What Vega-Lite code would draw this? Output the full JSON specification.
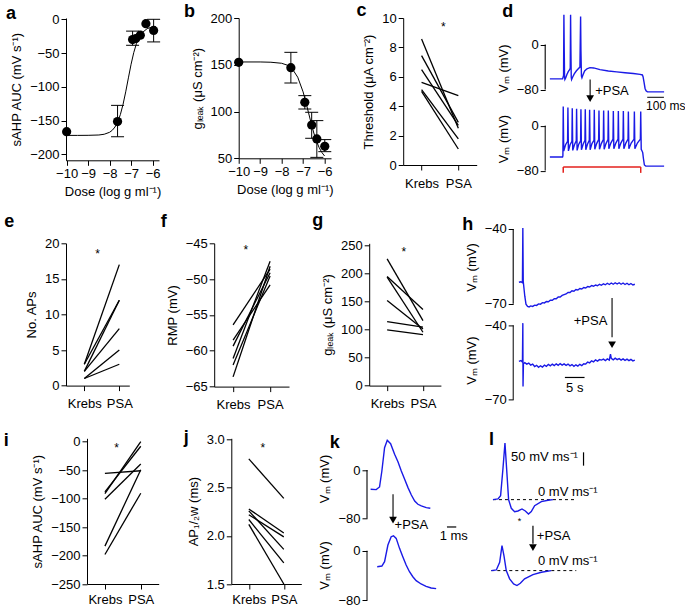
{
"$schema": "https://vega.github.io/schema/vega-lite/v6.json",
"padding": {"left": 3, "top": 2, "right": 0, "bottom": 0},
"background": "white",
"config": {
  "font": "Liberation Sans",
  "view": {"stroke": null},
  "axis": {"grid": false, "labelFontSize": 13, "titleFontSize": 13, "titleFontWeight": "normal", "labelColor": "black", "titleColor": "black", "domainColor": "black", "tickColor": "black", "tickSize": 5, "labelPadding": 2, "labelFlush": false, "labelOverlap": false},
  "axisY": {"titlePadding": 6},
  "axisX": {"titlePadding": 5}
},
"datasets": {
  "a_fit": [{"dose":-10,"auc":-172},{"dose":-9.5,"auc":-172},{"dose":-9,"auc":-171.9},{"dose":-8.5,"auc":-171.4},{"dose":-8.25,"auc":-170.3},{"dose":-8,"auc":-167.4},{"dose":-7.875,"auc":-164.4},{"dose":-7.75,"auc":-159.6},{"dose":-7.625,"auc":-152.1},{"dose":-7.5,"auc":-141.3},{"dose":-7.375,"auc":-126.2},{"dose":-7.25,"auc":-107.5},{"dose":-7.125,"auc":-86.8},{"dose":-7,"auc":-66.6},{"dose":-6.875,"auc":-49.3},{"dose":-6.75,"auc":-36},{"dose":-6.625,"auc":-26.5},{"dose":-6.5,"auc":-20.3},{"dose":-6.25,"auc":-13.8},{"dose":-6,"auc":-11.4},{"dose":-5.85,"auc":-11}],
  "a_pts": [{"dose":-10,"auc":-166.5},{"dose":-7.63,"auc":-151.5,"lo":-174,"hi":-127.5},{"dose":-6.93,"auc":-30,"lo":-38.5,"hi":-17.5},{"dose":-6.78,"auc":-28.5},{"dose":-6.57,"auc":-23.5},{"dose":-6.31,"auc":-6.5},{"dose":-5.95,"auc":-16.5,"lo":-33.5,"hi":0}],
  "b_fit": [{"dose":-10,"g":153},{"dose":-9,"g":153},{"dose":-8.5,"g":152.7},{"dose":-8,"g":151.6},{"dose":-7.75,"g":149.7},{"dose":-7.5,"g":145.5},{"dose":-7.25,"g":136.7},{"dose":-7,"g":121},{"dose":-6.875,"g":110.5},{"dose":-6.75,"g":99},{"dose":-6.625,"g":87.5},{"dose":-6.5,"g":77},{"dose":-6.375,"g":68.2},{"dose":-6.25,"g":61.3},{"dose":-6.125,"g":56.2},{"dose":-6,"g":52.5}],
  "b_pts": [{"dose":-10,"g":152.6},{"dose":-7.57,"g":146.9,"lo":130.5,"hi":163.3},{"dose":-6.92,"g":109.9,"lo":102.7,"hi":117},{"dose":-6.6,"g":85.6,"lo":71.4,"hi":99.2},{"dose":-6.36,"g":70.7,"lo":51,"hi":90.3},{"dose":-5.99,"g":62.8,"lo":57.1,"hi":70}],
  "c_lines": [{"id":1,"cond":"Krebs","v":8.57},{"id":1,"cond":"PSA","v":2.5},{"id":2,"cond":"Krebs","v":7.44},{"id":2,"cond":"PSA","v":2.9},{"id":3,"cond":"Krebs","v":6.49},{"id":3,"cond":"PSA","v":2.7},{"id":4,"cond":"Krebs","v":5.62},{"id":4,"cond":"PSA","v":4.72},{"id":5,"cond":"Krebs","v":5.12},{"id":5,"cond":"PSA","v":1.77},{"id":6,"cond":"Krebs","v":5.01},{"id":6,"cond":"PSA","v":1.09}],
  "e_lines": [{"id":1,"cond":"Krebs","v":3},{"id":1,"cond":"PSA","v":17},{"id":2,"cond":"Krebs","v":3},{"id":2,"cond":"PSA","v":12},{"id":3,"cond":"Krebs","v":2},{"id":3,"cond":"PSA","v":12},{"id":4,"cond":"Krebs","v":2},{"id":4,"cond":"PSA","v":8},{"id":5,"cond":"Krebs","v":1},{"id":5,"cond":"PSA","v":5},{"id":6,"cond":"Krebs","v":1},{"id":6,"cond":"PSA","v":3}],
  "f_lines": [{"id":1,"cond":"Krebs","v":-56.4},{"id":1,"cond":"PSA","v":-48.6},{"id":2,"cond":"Krebs","v":-58.5},{"id":2,"cond":"PSA","v":-50.8},{"id":3,"cond":"Krebs","v":-59.35},{"id":3,"cond":"PSA","v":-49.1},{"id":4,"cond":"Krebs","v":-61.07},{"id":4,"cond":"PSA","v":-47.5},{"id":5,"cond":"Krebs","v":-61.97},{"id":5,"cond":"PSA","v":-49.55},{"id":6,"cond":"Krebs","v":-63.64},{"id":6,"cond":"PSA","v":-48.2}],
  "g_lines": [{"id":1,"cond":"Krebs","v":226.2},{"id":1,"cond":"PSA","v":116},{"id":2,"cond":"Krebs","v":194.6},{"id":2,"cond":"PSA","v":135.7},{"id":3,"cond":"Krebs","v":193.5},{"id":3,"cond":"PSA","v":95.2},{"id":4,"cond":"Krebs","v":151.8},{"id":4,"cond":"PSA","v":101.2},{"id":5,"cond":"Krebs","v":114.3},{"id":5,"cond":"PSA","v":104.2},{"id":6,"cond":"Krebs","v":99.4},{"id":6,"cond":"PSA","v":91}],
  "i_lines": [{"id":1,"cond":"Krebs","v":-55.9},{"id":1,"cond":"PSA","v":-51.2},{"id":2,"cond":"Krebs","v":-88.2},{"id":2,"cond":"PSA","v":-8.2},{"id":3,"cond":"Krebs","v":-91.2},{"id":3,"cond":"PSA","v":0},{"id":4,"cond":"Krebs","v":-101.2},{"id":4,"cond":"PSA","v":-39.4},{"id":5,"cond":"Krebs","v":-183.5},{"id":5,"cond":"PSA","v":-49.4},{"id":6,"cond":"Krebs","v":-198.2},{"id":6,"cond":"PSA","v":-90.6}],
  "j_lines": [{"id":1,"cond":"Krebs","v":2.8},{"id":1,"cond":"PSA","v":2.39},{"id":2,"cond":"Krebs","v":2.28},{"id":2,"cond":"PSA","v":2.03},{"id":3,"cond":"Krebs","v":2.26},{"id":3,"cond":"PSA","v":1.86},{"id":4,"cond":"Krebs","v":2.22},{"id":4,"cond":"PSA","v":1.99},{"id":5,"cond":"Krebs","v":2.17},{"id":5,"cond":"PSA","v":1.72},{"id":6,"cond":"Krebs","v":2.12},{"id":6,"cond":"PSA","v":1.5}],
  "d1": [{"t":0,"v":-61},{"t":76,"v":-61},{"t":79,"v":-58},{"t":82,"v":-55},{"t":84,"v":53},{"t":86,"v":-10},{"t":88,"v":-58},{"t":90,"v":-62},{"t":95,"v":-59},{"t":102,"v":-53},{"t":110,"v":-48},{"t":117,"v":-45},{"t":122,"v":-42},{"t":124,"v":53},{"t":126,"v":-10},{"t":128,"v":-58},{"t":130,"v":-62},{"t":136,"v":-58},{"t":146,"v":-52},{"t":158,"v":-47},{"t":170,"v":-43},{"t":180,"v":-40},{"t":184,"v":50},{"t":186,"v":-10},{"t":189,"v":-56},{"t":192,"v":-59},{"t":198,"v":-54},{"t":208,"v":-47},{"t":222,"v":-43},{"t":240,"v":-41},{"t":262,"v":-41.5},{"t":300,"v":-44.5},{"t":350,"v":-47},{"t":400,"v":-48.5},{"t":450,"v":-50},{"t":500,"v":-51.5},{"t":540,"v":-53},{"t":554,"v":-54},{"t":558,"v":-57},{"t":564,"v":-67},{"t":570,"v":-78},{"t":576,"v":-82},{"t":584,"v":-84},{"t":684,"v":-84}],
  "d2": [{"t":0,"v":-55.7},{"t":76,"v":-55.7},{"t":78,"v":-54},{"t":80,"v":34},{"t":83,"v":-45},{"t":94,"v":-34},{"t":106,"v":-28},{"t":108,"v":32},{"t":111,"v":-45},{"t":121,"v":-34},{"t":132,"v":-28},{"t":134,"v":31},{"t":137,"v":-44},{"t":147,"v":-34},{"t":158,"v":-27},{"t":160,"v":30},{"t":163,"v":-44},{"t":173,"v":-33},{"t":184,"v":-27},{"t":186,"v":29},{"t":189,"v":-43},{"t":199,"v":-33},{"t":210,"v":-26},{"t":212,"v":29},{"t":215,"v":-43},{"t":225,"v":-33},{"t":236,"v":-26},{"t":238,"v":28},{"t":241,"v":-43},{"t":252,"v":-32},{"t":264,"v":-26},{"t":266,"v":28},{"t":269,"v":-42},{"t":280,"v":-32},{"t":292,"v":-25},{"t":294,"v":27},{"t":297,"v":-42},{"t":308,"v":-32},{"t":320,"v":-25},{"t":322,"v":27},{"t":325,"v":-42},{"t":336,"v":-32},{"t":348,"v":-25},{"t":350,"v":27},{"t":353,"v":-41},{"t":365,"v":-31},{"t":378,"v":-24},{"t":380,"v":26},{"t":383,"v":-41},{"t":395,"v":-31},{"t":408,"v":-24},{"t":410,"v":26},{"t":413,"v":-41},{"t":425,"v":-31},{"t":438,"v":-24},{"t":440,"v":26},{"t":443,"v":-41},{"t":455,"v":-31},{"t":468,"v":-24},{"t":470,"v":25},{"t":473,"v":-41},{"t":487,"v":-31},{"t":504,"v":-24},{"t":506,"v":25},{"t":509,"v":-41},{"t":524,"v":-31},{"t":542,"v":-24},{"t":544,"v":25},{"t":547,"v":-42},{"t":552,"v":-45},{"t":556,"v":-48},{"t":560,"v":-58},{"t":566,"v":-70},{"t":574,"v":-72},{"t":684,"v":-72}],
  "h1": [{"t":0,"v":-61.4},{"t":0.5,"v":-61.2},{"t":0.9,"v":-61.6},{"t":1.0,"v":-39.6},{"t":1.1,"v":-61},{"t":1.3,"v":-64},{"t":1.5,"v":-67},{"t":1.8,"v":-70.2},{"t":2.2,"v":-71.1},{"t":2.6,"v":-71.3},{"t":3.0,"v":-70.9},{"t":3.5,"v":-71.1},{"t":4.0,"v":-70.6},{"t":4.5,"v":-70.7},{"t":5.0,"v":-70.1},{"t":5.5,"v":-70.2},{"t":6.0,"v":-69.6},{"t":6.5,"v":-69.7},{"t":7.0,"v":-69.1},{"t":7.5,"v":-69.2},{"t":8.0,"v":-68.6},{"t":8.5,"v":-68.6},{"t":9.0,"v":-68.0},{"t":9.5,"v":-68.0},{"t":10.0,"v":-67.3},{"t":10.5,"v":-67.3},{"t":11.0,"v":-66.7},{"t":11.5,"v":-66.4},{"t":12.0,"v":-66.1},{"t":12.5,"v":-65.5},{"t":13.0,"v":-65.5},{"t":13.5,"v":-64.8},{"t":14.0,"v":-65.0},{"t":14.5,"v":-64.3},{"t":15.0,"v":-64.5},{"t":15.5,"v":-63.9},{"t":16.0,"v":-64.1},{"t":16.5,"v":-63.5},{"t":17.0,"v":-63.7},{"t":17.5,"v":-63.1},{"t":18.0,"v":-63.3},{"t":18.5,"v":-62.7},{"t":19.0,"v":-63.0},{"t":19.5,"v":-62.5},{"t":20.0,"v":-62.8},{"t":20.5,"v":-62.2},{"t":21.0,"v":-62.6},{"t":21.5,"v":-62.0},{"t":22.0,"v":-62.4},{"t":22.5,"v":-61.8},{"t":23.0,"v":-62.3},{"t":23.5,"v":-61.7},{"t":24.0,"v":-62.2},{"t":24.5,"v":-61.6},{"t":25.0,"v":-62.1},{"t":25.5,"v":-61.6},{"t":26.0,"v":-62.2},{"t":26.5,"v":-61.7},{"t":27.0,"v":-62.3},{"t":27.5,"v":-61.8},{"t":28.0,"v":-62.4},{"t":28.5,"v":-61.9},{"t":29.0,"v":-62.5},{"t":29.5,"v":-62.2}],
  "h2": [{"t":0,"v":-54.5},{"t":0.5,"v":-54.2},{"t":0.9,"v":-54.8},{"t":1.0,"v":-39.1},{"t":1.05,"v":-64.6},{"t":1.15,"v":-55.5},{"t":1.5,"v":-55.0},{"t":2.0,"v":-55.6},{"t":2.5,"v":-55.2},{"t":3.0,"v":-56.0},{"t":3.5,"v":-55.6},{"t":4.0,"v":-56.6},{"t":4.5,"v":-56.1},{"t":5.0,"v":-56.9},{"t":5.5,"v":-56.3},{"t":6.0,"v":-56.8},{"t":6.5,"v":-56.0},{"t":7.0,"v":-56.5},{"t":7.5,"v":-55.7},{"t":8.0,"v":-56.3},{"t":8.5,"v":-55.6},{"t":9.0,"v":-56.2},{"t":9.5,"v":-55.5},{"t":10.0,"v":-56.1},{"t":10.5,"v":-55.4},{"t":11.0,"v":-56.0},{"t":11.5,"v":-55.5},{"t":12.0,"v":-56.1},{"t":12.5,"v":-55.6},{"t":13.0,"v":-56.3},{"t":13.5,"v":-55.8},{"t":14.0,"v":-56.5},{"t":14.5,"v":-55.9},{"t":15.0,"v":-56.4},{"t":15.5,"v":-55.7},{"t":16.0,"v":-56.2},{"t":16.5,"v":-55.5},{"t":17.0,"v":-55.6},{"t":17.5,"v":-54.8},{"t":18.0,"v":-55.1},{"t":18.5,"v":-54.3},{"t":19.0,"v":-54.7},{"t":19.5,"v":-53.9},{"t":20.0,"v":-54.4},{"t":20.5,"v":-53.8},{"t":21.0,"v":-54.0},{"t":21.5,"v":-53.6},{"t":22.0,"v":-54.2},{"t":22.5,"v":-53.5},{"t":23.0,"v":-54.0},{"t":23.3,"v":-51.6},{"t":23.5,"v":-53.3},{"t":24.0,"v":-53.9},{"t":24.5,"v":-53.2},{"t":25.0,"v":-53.8},{"t":25.5,"v":-53.4},{"t":26.0,"v":-54.0},{"t":26.5,"v":-53.5},{"t":27.0,"v":-54.1},{"t":27.5,"v":-53.6},{"t":28.0,"v":-54.2},{"t":28.5,"v":-53.7},{"t":29.0,"v":-54.3},{"t":29.5,"v":-54.0}],
  "k1": [{"t":0.39,"v":-31.8},{"t":0.99,"v":-32.3},{"t":1.35,"v":-27.9},{"t":1.6,"v":-1.6},{"t":1.89,"v":36.7},{"t":2.18,"v":48.8},{"t":2.54,"v":43.3},{"t":2.97,"v":25.8},{"t":3.33,"v":13.7},{"t":3.69,"v":-1.6},{"t":4.05,"v":-15.3},{"t":4.41,"v":-29},{"t":4.77,"v":-41.1},{"t":5.13,"v":-51},{"t":5.48,"v":-56.4},{"t":5.84,"v":-59.2},{"t":6.38,"v":-61.9},{"t":6.81,"v":-63}],
  "k2": [{"t":1.1,"v":-26},{"t":1.6,"v":-24.9},{"t":1.89,"v":-17.8},{"t":2.25,"v":9.2},{"t":2.6,"v":22.7},{"t":2.85,"v":24.3},{"t":3.14,"v":20},{"t":3.5,"v":3.8},{"t":3.85,"v":-9.7},{"t":4.21,"v":-23.2},{"t":4.57,"v":-34.1},{"t":4.93,"v":-42.2},{"t":5.29,"v":-48.6},{"t":5.82,"v":-54},{"t":6.36,"v":-57.8},{"t":6.9,"v":-60.5},{"t":7.44,"v":-61.6}],
  "l1": [{"t":0.18,"v":0},{"t":0.72,"v":2.5},{"t":1.0,"v":15},{"t":1.25,"v":115},{"t":1.47,"v":212.5},{"t":1.65,"v":115},{"t":1.86,"v":0},{"t":2.15,"v":-32.5},{"t":2.51,"v":-45},{"t":2.87,"v":-42.5},{"t":3.3,"v":-35},{"t":3.66,"v":-42.5},{"t":4.0,"v":-53.7},{"t":4.3,"v":-45},{"t":4.66,"v":-22.5},{"t":5.38,"v":-7.5},{"t":6.1,"v":-2.5},{"t":6.63,"v":0}],
  "l2": [{"t":0,"v":0},{"t":0.54,"v":2.5},{"t":0.9,"v":31},{"t":1.15,"v":93.8},{"t":1.36,"v":56},{"t":1.61,"v":0},{"t":1.97,"v":-31},{"t":2.4,"v":-50},{"t":2.76,"v":-56},{"t":3.12,"v":-47.5},{"t":3.58,"v":-31},{"t":4.48,"v":-15},{"t":5.38,"v":-6.3},{"t":6.45,"v":0}]
},
"bounds": "flush",
"spacing": 225.3,
"vconcat": [
 {"bounds": "flush", "spacing": 79.7, "hconcat": [
  {"width": 93, "height": 142.3,
   "encoding": {"x": {"field": "dose", "type": "quantitative", "scale": {"domain": [-10.03, -5.7], "nice": false, "zero": false}, "axis": {"values": [-10,-9,-8,-7,-6], "title": "Dose (log g ml⁻¹)", "labelExpr": "replace(datum.label, '-', '−')"}},
                "y": {"field": "auc", "type": "quantitative", "scale": {"domain": [-208.9, 1.93], "nice": false, "zero": false}, "axis": {"values": [-200,-150,-100,-50,0], "title": "sAHP AUC (mV s⁻¹)", "labelExpr": "replace(datum.label, '-', '−')"}}},
   "layer": [
    {"data": {"name": "a_fit"}, "mark": {"type": "line", "color": "black", "strokeWidth": 1}},
    {"data": {"name": "a_pts"}, "mark": {"type": "rule", "color": "black", "strokeWidth": 1}, "encoding": {"y": {"field": "lo", "type": "quantitative"}, "y2": {"field": "hi"}}},
    {"data": {"name": "a_pts"}, "mark": {"type": "tick", "orient": "horizontal", "size": 13, "thickness": 1, "color": "black", "opacity": 1}, "encoding": {"y": {"field": "lo", "type": "quantitative"}}},
    {"data": {"name": "a_pts"}, "mark": {"type": "tick", "orient": "horizontal", "size": 13, "thickness": 1, "color": "black", "opacity": 1}, "encoding": {"y": {"field": "hi", "type": "quantitative"}}},
    {"data": {"name": "a_pts"}, "mark": {"type": "circle", "size": 85, "color": "black", "opacity": 1}},
    {"data": {"values": [{"dose": -12.82, "auc": 0.4}]}, "mark": {"type": "text", "text": "a", "fontSize": 18, "fontWeight": "bold", "color": "black", "align": "left", "baseline": "alphabetic"}}
   ]},
  {"bounds": "flush", "spacing": 71.5, "hconcat": [
   {"width": 92.3, "height": 140.3,
    "encoding": {"x": {"field": "dose", "type": "quantitative", "scale": {"domain": [-10, -5.7], "nice": false, "zero": false}, "axis": {"values": [-10,-9,-8,-7,-6], "title": "Dose (log g ml⁻¹)", "labelExpr": "replace(datum.label, '-', '−')"}},
                 "y": {"field": "g", "type": "quantitative", "scale": {"domain": [50, 200], "nice": false, "zero": false}, "axis": {"values": [50,100,150,200], "title": "gₗₑₐₖ (μS cm⁻²)"}}},
    "layer": [
     {"data": {"name": "b_fit"}, "mark": {"type": "line", "color": "black", "strokeWidth": 1}},
     {"data": {"name": "b_pts"}, "mark": {"type": "rule", "color": "black", "strokeWidth": 1}, "encoding": {"y": {"field": "lo", "type": "quantitative"}, "y2": {"field": "hi"}}},
     {"data": {"name": "b_pts"}, "mark": {"type": "tick", "orient": "horizontal", "size": 13, "thickness": 1, "color": "black", "opacity": 1}, "encoding": {"y": {"field": "lo", "type": "quantitative"}}},
     {"data": {"name": "b_pts"}, "mark": {"type": "tick", "orient": "horizontal", "size": 13, "thickness": 1, "color": "black", "opacity": 1}, "encoding": {"y": {"field": "hi", "type": "quantitative"}}},
     {"data": {"name": "b_pts"}, "mark": {"type": "circle", "size": 85, "color": "black", "opacity": 1}},
     {"data": {"values": [{"dose": -12.55, "g": 200.7}]}, "mark": {"type": "text", "text": "b", "fontSize": 18, "fontWeight": "bold", "color": "black", "align": "left", "baseline": "alphabetic"}}
    ]},
   {"bounds": "flush", "spacing": 68, "hconcat": [
    {"width": 73.5, "height": 147,
     "encoding": {"x": {"field": "cond", "type": "nominal", "scale": {"type": "point", "domain": ["Krebs","PSA"], "padding": 0.5}, "axis": {"title": null, "labelAngle": 0, "labelPadding": 7}},
                  "y": {"field": "v", "type": "quantitative", "scale": {"domain": [0, 10], "nice": false, "zero": false}, "axis": {"values": [0,2,4,6,8,10], "title": "Threshold (μA cm⁻²)"}}},
     "layer": [
      {"data": {"name": "c_lines"}, "mark": {"type": "line", "color": "black", "strokeWidth": 1.3}, "encoding": {"detail": {"field": "id", "type": "nominal"}}},
      {"data": {"values": [{"cond": "Krebs", "v": 9.12}]}, "mark": {"type": "text", "text": "*", "fontSize": 12, "color": "black", "align": "center", "baseline": "alphabetic", "dx": 21.7}},
      {"data": {"values": [{"cond": "Krebs", "v": 10.12}]}, "mark": {"type": "text", "text": "c", "fontSize": 18, "fontWeight": "bold", "color": "black", "align": "left", "baseline": "alphabetic", "dx": -65}}
     ]},
    {"bounds": "flush", "spacing": 10.1, "vconcat": [
     {"width": 119.9, "height": 74.4,
      "encoding": {"x": {"field": "t", "type": "quantitative", "scale": {"domain": [-28, 690], "nice": false, "zero": false}, "axis": null},
                   "y": {"field": "v", "type": "quantitative", "scale": {"domain": [-85, 47.3], "nice": false, "zero": false}, "axis": {"values": [0,-80], "domain": false, "title": "Vₘ (mV)", "titleAnchor": "start", "labelExpr": "replace(datum.label, '-', '−')"}}},
      "layer": [
       {"data": {"name": "d1"}, "mark": {"type": "line", "color": "#1a1ae6", "strokeWidth": 1.4}},
       {"data": {"values": [{"t": -28, "v": -80, "v2": 0}, {"t": 241, "v": -62, "v2": -92}]}, "mark": {"type": "rule", "color": "black", "strokeWidth": 1.1}, "encoding": {"y2": {"field": "v2"}}},
       {"data": {"values": [{"t": 241, "v": -96}]}, "mark": {"type": "point", "shape": "triangle-down", "filled": true, "size": 60, "color": "black", "opacity": 1}},
       {"data": {"values": [{"t": 583, "t2": 683, "v": -93.7}]}, "mark": {"type": "rule", "color": "black", "strokeWidth": 1}, "encoding": {"x2": {"field": "t2"}}},
       {"data": {"values": [{"t": 271, "v": -81.8}]}, "mark": {"type": "text", "text": "+PSA", "fontSize": 13, "color": "black", "align": "left", "baseline": "middle"}},
       {"data": {"values": [{"t": 576, "v": -110}]}, "mark": {"type": "text", "text": "100 ms", "fontSize": 12, "color": "black", "align": "left", "baseline": "middle"}},
       {"data": {"values": [{"t": -285.6, "v": 48.5}]}, "mark": {"type": "text", "text": "d", "fontSize": 18, "fontWeight": "bold", "color": "black", "align": "left", "baseline": "alphabetic"}}
      ]},
     {"bounds": "flush", "spacing": 49.9, "vconcat": [
      {"width": 119.9, "height": 70.9,
       "encoding": {"x": {"field": "t", "type": "quantitative", "scale": {"domain": [-28, 690], "nice": false, "zero": false}, "axis": null},
                    "y": {"field": "v", "type": "quantitative", "scale": {"domain": [-86, 40], "nice": false, "zero": false}, "axis": {"values": [0,-80], "domain": false, "title": "Vₘ (mV)", "labelExpr": "replace(datum.label, '-', '−')"}}},
       "layer": [
        {"data": {"name": "d2"}, "mark": {"type": "line", "color": "#1a1ae6", "strokeWidth": 1.4}},
        {"data": {"values": [{"t": -28, "v": -80, "v2": 0}]}, "mark": {"type": "rule", "color": "black", "strokeWidth": 1}, "encoding": {"y2": {"field": "v2"}}},
        {"data": {"values": [{"t": 80, "v": -73.5, "v2": -84}, {"t": 544, "v": -73.5, "v2": -84}]}, "mark": {"type": "rule", "color": "#e3211c", "strokeWidth": 1.5}, "encoding": {"y2": {"field": "v2"}}},
        {"data": {"values": [{"t": 80, "t2": 544, "v": -73.5}]}, "mark": {"type": "rule", "color": "#e3211c", "strokeWidth": 1.5}, "encoding": {"x2": {"field": "t2"}}}
       ]},
      {"bounds": "flush", "spacing": 10.4, "vconcat": [
       {"width": 97, "height": 85.9,
        "encoding": {"x": {"field": "t", "type": "quantitative", "scale": {"domain": [6.69, 31.37], "nice": false, "zero": false}, "axis": null},
                     "y": {"field": "v", "type": "quantitative", "scale": {"domain": [-72.5, -38], "nice": false, "zero": false}, "axis": {"values": [-40,-70], "domain": false, "offset": 32, "title": "Vₘ (mV)", "labelExpr": "replace(datum.label, '-', '−')"}}},
        "layer": [
         {"data": {"name": "h1"}, "mark": {"type": "line", "color": "#1a1ae6", "strokeWidth": 1.4}},
         {"data": {"values": [{"t": -1.45, "v": -70, "v2": -40}, {"t": 23.7, "v": -67.7, "v2": -83.5}]}, "mark": {"type": "rule", "color": "black", "strokeWidth": 1.1}, "encoding": {"y2": {"field": "v2"}}},
         {"data": {"values": [{"t": 23.7, "v": -86.5}]}, "mark": {"type": "point", "shape": "triangle-down", "filled": true, "size": 60, "color": "black", "opacity": 1}},
         {"data": {"values": [{"t": 22.5, "v": -77.1}]}, "mark": {"type": "text", "text": "+PSA", "fontSize": 13, "color": "black", "align": "right", "baseline": "middle"}},
         {"data": {"values": [{"t": -14.4, "v": -40.3}]}, "mark": {"type": "text", "text": "h", "fontSize": 18, "fontWeight": "bold", "color": "black", "align": "left", "baseline": "alphabetic"}}
        ]},
       {"width": 97, "height": 79.4,
        "encoding": {"x": {"field": "t", "type": "quantitative", "scale": {"domain": [6.69, 31.37], "nice": false, "zero": false}, "axis": null},
                     "y": {"field": "v", "type": "quantitative", "scale": {"domain": [-70, -38], "nice": false, "zero": false}, "axis": {"values": [-40,-70], "domain": false, "offset": 32, "title": "Vₘ (mV)", "labelExpr": "replace(datum.label, '-', '−')"}}},
        "layer": [
         {"data": {"name": "h2"}, "mark": {"type": "line", "color": "#1a1ae6", "strokeWidth": 1.4}},
         {"data": {"values": [{"t": -1.45, "v": -70, "v2": -40}]}, "mark": {"type": "rule", "color": "black", "strokeWidth": 1}, "encoding": {"y2": {"field": "v2"}}},
         {"data": {"values": [{"t": 11.7, "t2": 16.7, "v": -61}]}, "mark": {"type": "rule", "color": "black", "strokeWidth": 1.2}, "encoding": {"x2": {"field": "t2"}}},
         {"data": {"values": [{"t": 14.2, "v": -65.4}]}, "mark": {"type": "text", "text": "5 s", "fontSize": 13, "color": "black", "align": "center", "baseline": "middle"}}
        ]}
      ]}
     ]}
    ]}
   ]}
  ]}
 ]},
 {"bounds": "flush", "spacing": 195, "vconcat": [
  {"bounds": "flush", "spacing": 84.2, "hconcat": [
   {"width": 63.3, "height": 142.3,
    "encoding": {"x": {"field": "cond", "type": "nominal", "scale": {"type": "point", "domain": ["Krebs","PSA"], "padding": 0.404, "align": 0.647}, "axis": {"title": null, "labelAngle": 0, "labelPadding": 7}},
                 "y": {"field": "v", "type": "quantitative", "scale": {"domain": [0, 20], "nice": false, "zero": false}, "axis": {"values": [0,5,10,15,20], "title": "No. APs"}}},
    "layer": [
     {"data": {"name": "e_lines"}, "mark": {"type": "line", "color": "black", "strokeWidth": 1.3}, "encoding": {"detail": {"field": "id", "type": "nominal"}}},
     {"data": {"values": [{"cond": "Krebs", "v": 18.0}]}, "mark": {"type": "text", "text": "*", "fontSize": 12, "color": "black", "align": "center", "baseline": "alphabetic", "dx": 13.4}},
     {"data": {"values": [{"cond": "Krebs", "v": 22.25}]}, "mark": {"type": "text", "text": "e", "fontSize": 18, "fontWeight": "bold", "color": "black", "align": "left", "baseline": "alphabetic", "dx": -80}}
    ]},
   {"bounds": "flush", "spacing": 80, "hconcat": [
    {"width": 74.8, "height": 143.3,
     "encoding": {"x": {"field": "cond", "type": "nominal", "scale": {"type": "point", "domain": ["Krebs","PSA"], "padding": 0.51}, "axis": {"title": null, "labelAngle": 0, "labelPadding": 7}},
                  "y": {"field": "v", "type": "quantitative", "scale": {"domain": [-65, -45], "nice": false, "zero": false}, "axis": {"values": [-65,-60,-55,-50,-45], "title": "RMP (mV)", "labelExpr": "replace(datum.label, '-', '−')"}}},
     "layer": [
      {"data": {"name": "f_lines"}, "mark": {"type": "line", "color": "black", "strokeWidth": 1.3}, "encoding": {"detail": {"field": "id", "type": "nominal"}}},
      {"data": {"values": [{"cond": "Krebs", "v": -46.5}]}, "mark": {"type": "text", "text": "*", "fontSize": 12, "color": "black", "align": "center", "baseline": "alphabetic", "dx": 12.7}},
      {"data": {"values": [{"cond": "Krebs", "v": -42.77}]}, "mark": {"type": "text", "text": "f", "fontSize": 18, "fontWeight": "bold", "color": "black", "align": "left", "baseline": "alphabetic", "dx": -72.3}}
     ]},
    {"width": 71.7, "height": 142.3,
     "encoding": {"x": {"field": "cond", "type": "nominal", "scale": {"type": "point", "domain": ["Krebs","PSA"], "padding": 0.5}, "axis": {"title": null, "labelAngle": 0, "labelPadding": 7}},
                  "y": {"field": "v", "type": "quantitative", "scale": {"domain": [0, 254], "nice": false, "zero": false}, "axis": {"values": [0,50,100,150,200,250], "title": "gₗₑₐₖ (μS cm⁻²)"}}},
     "layer": [
      {"data": {"name": "g_lines"}, "mark": {"type": "line", "color": "black", "strokeWidth": 1.3}, "encoding": {"detail": {"field": "id", "type": "nominal"}}},
      {"data": {"values": [{"cond": "Krebs", "v": 231.6}]}, "mark": {"type": "text", "text": "*", "fontSize": 12, "color": "black", "align": "center", "baseline": "alphabetic", "dx": 16.7}},
      {"data": {"values": [{"cond": "Krebs", "v": 285.7}]}, "mark": {"type": "text", "text": "g", "fontSize": 18, "fontWeight": "bold", "color": "black", "align": "left", "baseline": "alphabetic", "dx": -75}}
     ]}
   ]}
  ]},
  {"bounds": "flush", "spacing": 20, "hconcat": [
   {"width": 1, "height": 145.7, "data": {"values": [{"u": -62.3, "v": -7.0}]}, "mark": {"type": "text", "text": "i", "fontSize": 18, "fontWeight": "bold", "color": "black", "align": "left", "baseline": "alphabetic"},
    "encoding": {"x": {"field": "u", "type": "quantitative", "scale": {"domain": [0, 1], "nice": false, "zero": false}, "axis": null},
                 "y": {"field": "v", "type": "quantitative", "scale": {"domain": [-250, 5.8], "nice": false, "zero": false}, "axis": null}}},
   {"bounds": "flush", "spacing": 72.3, "hconcat": [
    {"width": 71.7, "height": 145.7,
     "encoding": {"x": {"field": "cond", "type": "nominal", "scale": {"type": "point", "domain": ["Krebs","PSA"], "padding": 0.5}, "axis": {"title": null, "labelAngle": 0, "labelPadding": 4}},
                  "y": {"field": "v", "type": "quantitative", "scale": {"domain": [-250, 5.8], "nice": false, "zero": false}, "axis": {"values": [-250,-200,-150,-100,-50,0], "title": "sAHP AUC (mV s⁻¹)", "labelExpr": "replace(datum.label, '-', '−')"}}},
     "layer": [
      {"data": {"name": "i_lines"}, "mark": {"type": "line", "color": "black", "strokeWidth": 1.3}, "encoding": {"detail": {"field": "id", "type": "nominal"}}},
      {"data": {"values": [{"cond": "Krebs", "v": -19.1}]}, "mark": {"type": "text", "text": "*", "fontSize": 12, "color": "black", "align": "center", "baseline": "alphabetic", "dx": 11.7}}
     ]},
    {"bounds": "flush", "spacing": 65.7, "hconcat": [
     {"width": 70, "height": 145.7,
      "encoding": {"x": {"field": "cond", "type": "nominal", "scale": {"type": "point", "domain": ["Krebs","PSA"], "padding": 0.5}, "axis": {"title": null, "labelAngle": 0, "labelPadding": 4}},
                   "y": {"field": "v", "type": "quantitative", "scale": {"domain": [1.5, 3.0135], "nice": false, "zero": false}, "axis": {"values": [1.5,2,2.5,3], "format": ".1f", "title": "AP₁/₂w (ms)"}}},
      "layer": [
       {"data": {"name": "j_lines"}, "mark": {"type": "line", "color": "black", "strokeWidth": 1.3}, "encoding": {"detail": {"field": "id", "type": "nominal"}}},
       {"data": {"values": [{"cond": "Krebs", "v": 2.866}]}, "mark": {"type": "text", "text": "*", "fontSize": 12, "color": "black", "align": "center", "baseline": "alphabetic", "dx": 14}},
       {"data": {"values": [{"cond": "Krebs", "v": 2.962}]}, "mark": {"type": "text", "text": "j", "fontSize": 18, "fontWeight": "bold", "color": "black", "align": "left", "baseline": "alphabetic", "dx": -65}}
      ]},
     {"bounds": "flush", "spacing": 124.3, "hconcat": [
      {"bounds": "flush", "spacing": 10.7, "vconcat": [
       {"width": 70, "height": 80.3,
        "encoding": {"x": {"field": "t", "type": "quantitative", "scale": {"domain": [0, 7.53], "nice": false, "zero": false}, "axis": null},
                     "y": {"field": "v", "type": "quantitative", "scale": {"domain": [-80, 52.2], "nice": false, "zero": false}, "axis": {"values": [0,-80], "domain": false, "title": "Vₘ (mV)", "labelExpr": "replace(datum.label, '-', '−')"}}},
        "layer": [
         {"data": {"name": "k1"}, "mark": {"type": "line", "color": "#1a1ae6", "strokeWidth": 1.4}},
         {"data": {"values": [{"t": 0, "v": -80, "v2": 0}, {"t": 2.8, "v": -40, "v2": -78}]}, "mark": {"type": "rule", "color": "black", "strokeWidth": 1.1}, "encoding": {"y2": {"field": "v2"}}},
         {"data": {"values": [{"t": 2.8, "v": -82.5}]}, "mark": {"type": "point", "shape": "triangle-down", "filled": true, "size": 60, "color": "black", "opacity": 1}},
         {"data": {"values": [{"t": 8.6, "t2": 9.6, "v": -93.8}]}, "mark": {"type": "rule", "color": "black", "strokeWidth": 1.2}, "encoding": {"x2": {"field": "t2"}}},
         {"data": {"values": [{"t": 2.97, "v": -90.5, "label": "+PSA"}, {"t": 7.82, "v": -108.6, "label": "1 ms"}]}, "mark": {"type": "text", "fontSize": 13, "color": "black", "align": "left", "baseline": "middle"}, "encoding": {"text": {"field": "label"}}},
         {"data": {"values": [{"t": -4.02, "v": 36.9}]}, "mark": {"type": "text", "text": "k", "fontSize": 18, "fontWeight": "bold", "color": "black", "align": "left", "baseline": "alphabetic"}}
        ]},
       {"width": 70, "height": 70,
        "encoding": {"x": {"field": "t", "type": "quantitative", "scale": {"domain": [0, 7.53], "nice": false, "zero": false}, "axis": null},
                     "y": {"field": "v", "type": "quantitative", "scale": {"domain": [-80, 33.6], "nice": false, "zero": false}, "axis": {"values": [0,-80], "domain": false, "title": "Vₘ (mV)", "labelExpr": "replace(datum.label, '-', '−')"}}},
        "layer": [
         {"data": {"name": "k2"}, "mark": {"type": "line", "color": "#1a1ae6", "strokeWidth": 1.4}},
         {"data": {"values": [{"t": 0, "v": -80, "v2": 0}]}, "mark": {"type": "rule", "color": "black", "strokeWidth": 1}, "encoding": {"y2": {"field": "v2"}}}
        ]}
      ]},
      {"bounds": "flush", "spacing": 20, "vconcat": [
       {"width": 90, "height": 84,
        "encoding": {"x": {"field": "t", "type": "quantitative", "scale": {"domain": [0, 9.68], "nice": false, "zero": false}, "axis": null},
                     "y": {"field": "v", "type": "quantitative", "scale": {"domain": [-85, 230], "nice": false, "zero": false}, "axis": null}},
        "layer": [
         {"data": {"values": [{"t": 0.18, "t2": 9.14, "v": 0}]}, "mark": {"type": "rule", "color": "black", "strokeWidth": 1, "strokeDash": [3, 3]}, "encoding": {"x2": {"field": "t2"}}},
         {"data": {"name": "l1"}, "mark": {"type": "line", "color": "#1a1ae6", "strokeWidth": 1.4}},
         {"data": {"values": [{"t": 9.92, "v": 127.4, "v2": 177.4}, {"t": 4.48, "v": -97.5, "v2": -165}]}, "mark": {"type": "rule", "color": "black", "strokeWidth": 1.2}, "encoding": {"y2": {"field": "v2"}}},
         {"data": {"values": [{"t": 4.48, "v": -180}]}, "mark": {"type": "point", "shape": "triangle-down", "filled": true, "size": 60, "color": "black", "opacity": 1}},
         {"data": {"values": [{"t": 9.32, "v": 158.6}]}, "mark": {"type": "text", "text": "50 mV ms⁻¹", "fontSize": 13, "color": "black", "align": "right", "baseline": "middle"}},
         {"data": {"values": [{"t": 5.02, "v": 30, "label": "0 mV ms⁻¹"}, {"t": 4.9, "v": -137.6, "label": "+PSA"}]}, "mark": {"type": "text", "fontSize": 13, "color": "black", "align": "left", "baseline": "middle"}, "encoding": {"text": {"field": "label"}}},
         {"data": {"values": [{"t": 3.04, "v": -92.6}]}, "mark": {"type": "text", "text": "*", "fontSize": 9, "color": "black", "align": "center", "baseline": "alphabetic"}},
         {"data": {"values": [{"t": -0.25, "v": 204.7}]}, "mark": {"type": "text", "text": "l", "fontSize": 18, "fontWeight": "bold", "color": "black", "align": "left", "baseline": "alphabetic"}}
        ]},
       {"width": 90, "height": 55,
        "encoding": {"x": {"field": "t", "type": "quantitative", "scale": {"domain": [0, 9.68], "nice": false, "zero": false}, "axis": null},
                     "y": {"field": "v", "type": "quantitative", "scale": {"domain": [-100, 106], "nice": false, "zero": false}, "axis": null}},
        "layer": [
         {"data": {"values": [{"t": 0, "t2": 9.14, "v": 0}]}, "mark": {"type": "rule", "color": "black", "strokeWidth": 1, "strokeDash": [3, 3]}, "encoding": {"x2": {"field": "t2"}}},
         {"data": {"name": "l2"}, "mark": {"type": "line", "color": "#1a1ae6", "strokeWidth": 1.4}},
         {"data": {"values": [{"t": 5.02, "v": 37.5}]}, "mark": {"type": "text", "text": "0 mV ms⁻¹", "fontSize": 13, "color": "black", "align": "left", "baseline": "middle"}}
        ]}
      ]}
     ]}
    ]}
   ]}
  ]}
 ]}
]
}
